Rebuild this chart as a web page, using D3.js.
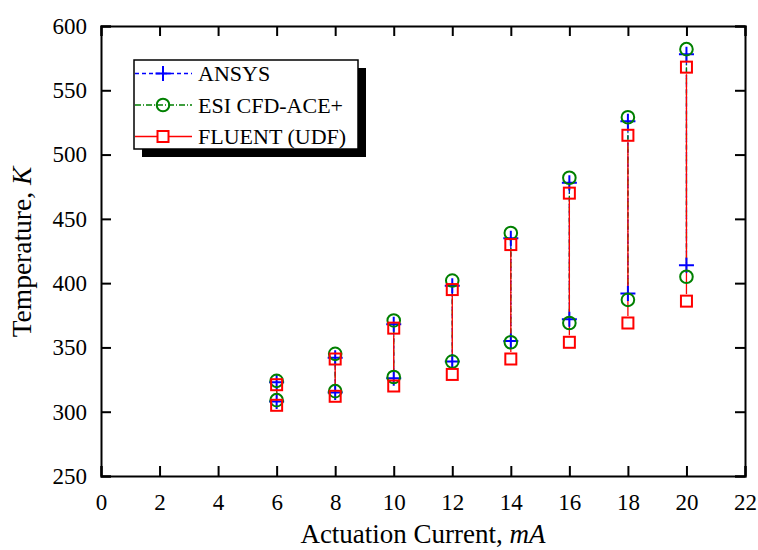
<!DOCTYPE html>
<html>
<head>
<meta charset="utf-8">
<script src="https://cdn.jsdelivr.net/npm/d3@7"></script>
<style>
  body { margin: 0; background: #fff; }
  text { font-family: "Liberation Serif", "Times New Roman", serif; fill: #000; }
</style>
</head>
<body>
<div id="chart"></div>
<script>
// data: high / low temperature at each current
const currents = [6, 8, 10, 12, 14, 16, 18, 20];
const ansysHigh = [323, 342, 368, 398, 435, 478, 526, 578];
const ansysLow = [308, 315, 326, 339, 355, 372, 392, 414];
const esiHigh = [324, 345, 371, 402, 439, 482, 529, 582];
const esiLow = [309, 316, 327, 339, 354, 369, 387, 405];
const fluentHigh = [321, 341, 365, 395, 430, 470, 515, 568];
const fluentLow = [305, 312, 320, 329, 341, 354, 369, 386];
const xTicks = d3.range(0, 23, 2);
const yTicks = d3.range(250, 601, 50);

const series = [
    { name: 'ANSYS', high: ansysHigh, low: ansysLow, color: '#0000ff', dash: '4,3', marker: 'plus' },
    { name: 'ESI CFD-ACE+', high: esiHigh, low: esiLow, color: '#008000', dash: '6,2,1,2', marker: 'circle' },
    { name: 'FLUENT (UDF)', high: fluentHigh, low: fluentLow, color: '#ff0000', dash: null, marker: 'square' }
];

const width = 758, height = 550;
const plotLeft = 101, plotRight = 745, plotTop = 26, plotBottom = 476;
const serif = '"Liberation Serif", "Times New Roman", serif';

const svg = d3.select('#chart').append('svg')
    .attr('width', width)
    .attr('height', height);

svg.append('rect').attr('width', width).attr('height', height).attr('fill', '#fff');

const x = d3.scaleLinear().domain([0, 22]).range([plotLeft, plotRight]);
const y = d3.scaleLinear().domain([250, 600]).range([plotBottom, plotTop]);

//  Axes, ticks inward on all four sides
const tickLen = 10;
svg.append('g').attr('transform', `translate(0,${plotBottom})`)
    .call(d3.axisBottom(x).tickValues(xTicks).tickSize(-tickLen).tickPadding(18));
svg.append('g').attr('transform', `translate(0,${plotTop})`)
    .call(d3.axisTop(x).tickValues(xTicks).tickSize(-tickLen).tickFormat(''));
svg.append('g').attr('transform', `translate(${plotLeft},0)`)
    .call(d3.axisLeft(y).tickValues(yTicks).tickSize(-tickLen).tickPadding(14));
svg.append('g').attr('transform', `translate(${plotRight},0)`)
    .call(d3.axisRight(y).tickValues(yTicks).tickSize(-tickLen).tickFormat(''));

svg.selectAll('.domain').attr('stroke', '#000').attr('stroke-width', 2);
svg.selectAll('.tick line').attr('stroke', '#000').attr('stroke-width', 2);
svg.selectAll('.tick text')
    .style('font-family', serif)
    .style('font-size', '23px')
    .attr('fill', '#000');

// Axis titles
const xTitle = svg.append('text')
    .attr('x', 423)
    .attr('y', 543)
    .attr('text-anchor', 'middle')
    .style('font-size', '27px');
xTitle.append('tspan').text('Actuation Current, ');
xTitle.append('tspan').attr('font-style', 'italic').text('mA');

const yTitle = svg.append('text')
    .attr('transform', 'translate(31,252) rotate(-90)')
    .attr('text-anchor', 'middle')
    .style('font-size', '27.5px');
yTitle.append('tspan').text('Temperature, ');
yTitle.append('tspan').attr('font-style', 'italic').text('K');

function drawMarker(g, type, cx, cy, color) {
    if (type === 'plus') {
        g.append('path')
            .attr('d', `M${cx - 7.5},${cy}H${cx + 7.5}M${cx},${cy - 7.5}V${cy + 7.5}`)
            .attr('stroke', color).attr('stroke-width', 2).attr('fill', 'none');
    } else if (type === 'circle') {
        g.append('circle').attr('cx', cx).attr('cy', cy).attr('r', 6.3)
            .attr('stroke', color).attr('stroke-width', 2).attr('fill', 'none');
    } else {
        g.append('rect').attr('x', cx - 5.5).attr('y', cy - 5.5).attr('width', 11).attr('height', 11)
            .attr('stroke', color).attr('stroke-width', 2).attr('fill', 'none');
    }
}

// vertical lines joining low and high at each current
const plot = svg.append('g');
series.forEach(s => {
    plot.selectAll(null).data(currents).enter().append('line')
        .attr('x1', d => x(d)).attr('x2', d => x(d))
        .attr('y1', (d, i) => y(s.high[i]) + 7)
        .attr('y2', (d, i) => y(s.low[i]) - 7)
        .attr('stroke', s.color)
        .attr('stroke-width', 1.3)
        .attr('stroke-dasharray', s.dash);
});
series.forEach(s => {
    const g = plot.append('g');
    currents.forEach((c, i) => {
        drawMarker(g, s.marker, x(c), y(s.high[i]), s.color);
        drawMarker(g, s.marker, x(c), y(s.low[i]), s.color);
    });
});

// Legend with drop shadow
const legend = svg.append('g').attr('transform', 'translate(134,60)');
legend.append('rect').attr('x', 8).attr('y', 8).attr('width', 224).attr('height', 89).attr('fill', '#000');
legend.append('rect').attr('width', 224).attr('height', 89)
    .attr('fill', '#fff').attr('stroke', '#000').attr('stroke-width', 1.5);
series.forEach((s, i) => {
    const ly = 13.5 + i * 31.5;
    legend.append('line').attr('x1', 1).attr('x2', 58).attr('y1', ly).attr('y2', ly)
        .attr('stroke', s.color).attr('stroke-width', 1.3).attr('stroke-dasharray', s.dash);
    if (s.marker === 'square') {
        legend.append('rect').attr('x', 23).attr('y', ly - 6).attr('width', 12).attr('height', 12).attr('fill', '#fff');
    }
    drawMarker(legend, s.marker, 29, ly, s.color);
    legend.append('text').attr('x', 64).attr('y', ly + 7.5)
        .style('font-size', '22px').text(s.name);
});
</script>
</body>
</html>
